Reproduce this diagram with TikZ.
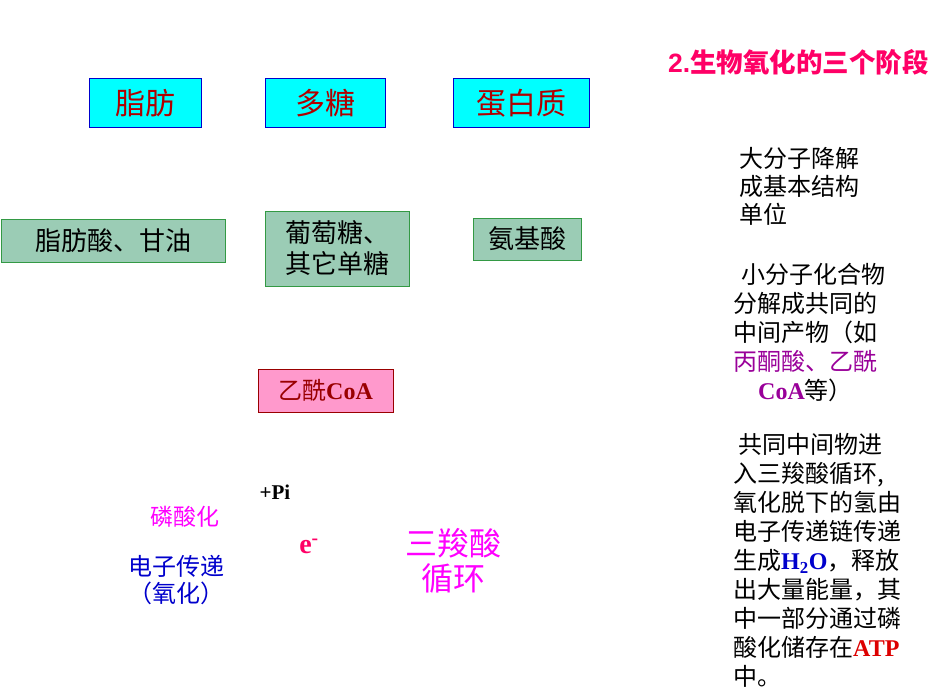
\documentclass[tikz,border=0pt]{standalone}
\usepackage{fontspec}
\setmainfont{Noto Sans CJK SC}
\newfontfamily\latinserif{Liberation Serif}
\newfontfamily\latinsans{Liberation Sans}
\usepackage{xcolor}
\definecolor{srccyan}{HTML}{00FFFF}
\definecolor{srcline}{HTML}{0000CC}
\definecolor{darkred}{HTML}{B00000}
\definecolor{mint}{HTML}{9BCCB5}
\definecolor{mintline}{HTML}{339944}
\definecolor{acpink}{HTML}{FF99CC}
\definecolor{acline}{HTML}{990000}
\definecolor{rose}{HTML}{FF0066}
\definecolor{fuchsia}{HTML}{FF00FF}
\definecolor{plum}{HTML}{990099}
\definecolor{elecblue}{HTML}{0000CC}
\definecolor{atpred}{HTML}{DD0000}
\newcommand\serifb[1]{{\latinserif\bfseries #1}}
\newcommand\fs[2]{\fontsize{#1}{#2}\selectfont}

\begin{document}
\begin{tikzpicture}[
    x=1pt, y=-1pt,
    src/.style={draw=srcline, fill=srccyan, line width=1pt, inner sep=0pt,
      minimum height=49pt, text=darkred, font=\fs{30}{36}},
    unit/.style={draw=mintline, fill=mint, line width=1pt, inner sep=0pt,
      align=center, font=\fs{26}{31}},
    note/.style={anchor=west, align=left, inner sep=0pt, font=\fs{24}{29}},
    tag/.style={inner sep=0pt, align=center}]

    \useasboundingbox (0,0) rectangle (944,695);

    % ---- title ----
    \node[anchor=west, inner sep=0pt, text=rose, font=\fs{26.5}{31}\bfseries] (title) at (668,62)
    {{\latinsans 2.}生物氧化的三个阶段};

    % ---- stage 1: macromolecules -> building blocks ----
    \node[src, minimum width=112pt] (fat)  at (145,103.5) {脂肪};
    \node[src, minimum width=120pt] (poly) at (325,103.5) {多糖};
    \node[src, minimum width=136pt] (prot) at (521,103.5) {蛋白质};

    \node[unit, minimum width=224pt, minimum height=43pt] (fa)  at (113,240.5) {脂肪酸、甘油};
    \node[unit, minimum width=144pt, minimum height=75pt] (glu) at (337,248.5) {葡萄糖、\\其它单糖};
    \node[unit, minimum width=108pt, minimum height=42pt] (aa)  at (527,239) {氨基酸};

    % ---- stage 2: common intermediate ----
    \node[draw=acline, fill=acpink, line width=1pt, inner sep=0pt, text=acline,
      minimum width=135pt, minimum height=43pt, font=\fs{24}{29}] (acoa) at (325.5,390.5)
    {乙酰\serifb{CoA}};

    % ---- stage 3: cycle and electron transport ----
    \node[tag, font=\fs{21}{25}] (pi) at (275,492) {\serifb{+Pi}};
    \node[tag, text=fuchsia, font=\fs{23}{27}] (phos) at (185,517) {磷酸化};
    \node[tag, text=rose, font=\fs{28}{32}] (elec) at (309,546) {\serifb{e\textsuperscript{-}}};
    \node[tag, text=elecblue, font=\fs{24}{27}] (etc) at (176,580.5) {电子传递\\（氧化）};
    \node[tag, text=fuchsia, font=\fs{32}{35}] (tca) at (453,560.5) {三羧酸\\循环};

    % ---- side notes ----
    \node[note, font=\fs{24}{28}] (note1) at (739,186) {大分子降解\\成基本结构\\单位};
    \node[note] (note2) at (733,333)
    {\hspace*{8pt}小分子化合物\\分解成共同的\\中间产物（如\\\textcolor{plum}{丙酮酸、乙酰}\\
    \hspace*{25pt}\textcolor{plum}{\serifb{CoA}}等）};
    \node[note] (note3) at (733,560.5)
    {\hspace*{5pt}共同中间物进\\入三羧酸循环,\\氧化脱下的氢由\\电子传递链传递\\
    生成\textcolor{elecblue}{\serifb{H\textsubscript{2}O}}，释放\\出大量能量，其\\
    中一部分通过磷\\酸化储存在\textcolor{atpred}{\serifb{ATP}}\\中。};
\end{tikzpicture}
\end{document}
